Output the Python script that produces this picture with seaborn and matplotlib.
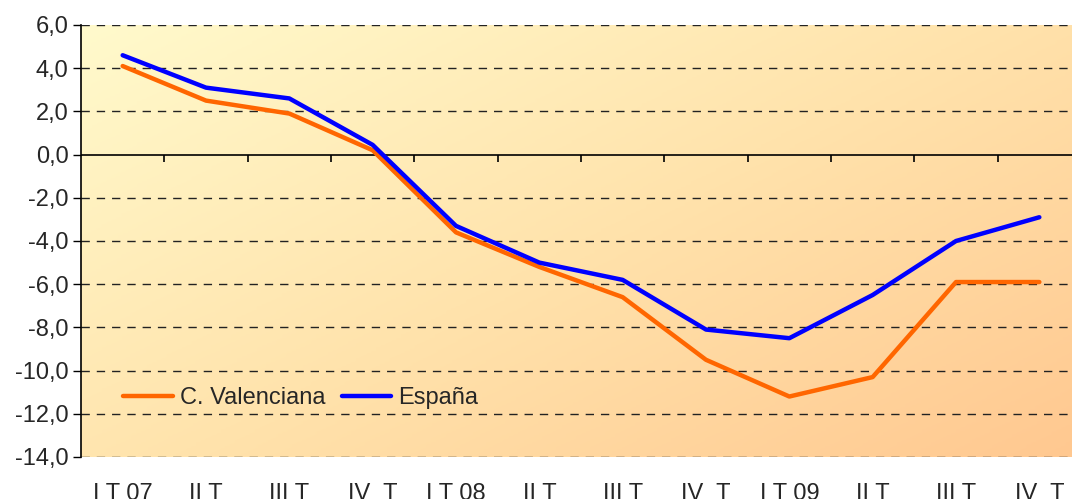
import numpy as np
import pandas as pd
import matplotlib
matplotlib.use("Agg")
import matplotlib.pyplot as plt
import seaborn as sns
from matplotlib.colors import LinearSegmentedColormap

quarters = ["I T 07", "II T", "III T", "IV  T", "I T 08", "II T", "III T", "IV  T",
            "I T 09", "II T", "III T", "IV  T"]
valenciana = [4.1, 2.5, 1.9, 0.2, -3.6, -5.2, -6.6, -9.5, -11.2, -10.3, -5.9, -5.9]
espana = [4.6, 3.1, 2.6, 0.45, -3.3, -5.0, -5.8, -8.1, -8.5, -6.5, -4.0, -2.9]

sns.set_style("white")
plt.rcParams["font.family"] = ["Liberation Sans", "DejaVu Sans"]

df = pd.DataFrame({
    "pos": list(range(len(quarters))) * 2,
    "valor": valenciana + espana,
    "serie": ["C. Valenciana"] * len(quarters) + ["España"] * len(quarters),
})

fig = plt.figure(figsize=(10.72, 4.99), dpi=100)
ax = fig.add_axes([81 / 1072, 42 / 499, 1000 / 1072, 432 / 499])

# gradient background: light yellow top-left -> orange bottom-right
grad_x, grad_y = np.meshgrid(np.linspace(0, 1, 200), np.linspace(0, 1, 200))
grad = grad_x * 0.55 + grad_y * 0.45
cmap = LinearSegmentedColormap.from_list("bg", ["#FFFACC", "#FFE3AC", "#FFC890"])
ax.imshow(grad, extent=[0, 1, 0, 1], transform=ax.transAxes, cmap=cmap,
          aspect="auto", zorder=0, origin="upper")

sns.lineplot(data=df, x="pos", y="valor", hue="serie", ax=ax,
             palette={"C. Valenciana": "#FF6600", "España": "#0000FF"},
             linewidth=3.2, zorder=5)

ax.set_xlim(-0.5, 11.5)
ax.set_ylim(-14, 6)
yt = np.arange(-14, 7, 2)
ax.set_yticks(yt)
ax.set_yticklabels([f"{v:.1f}".replace(".", ",") for v in yt], fontsize=17)
for y in yt:
    if y != 0:
        ax.axhline(y, color="#222222", linestyle=(0, (6, 5)), linewidth=1, zorder=1)
ax.axhline(0, color="black", linewidth=1.2, zorder=2)
ax.vlines(np.arange(0.5, 11, 1), -0.33, 0, color="black", linewidth=1.2, zorder=2)

ax.set_xticks(range(len(quarters)))
ax.set_xticklabels(quarters, fontsize=17)
ax.tick_params(axis="x", length=0, pad=19)
ax.tick_params(axis="y", length=6, width=1, color="black", pad=3, left=True)
ax.set_xlabel("")
ax.set_ylabel("")

for s in ["top", "right", "bottom"]:
    ax.spines[s].set_visible(False)
ax.spines["left"].set_color("black")
ax.spines["left"].set_linewidth(1.2)

handles, labels = ax.get_legend_handles_labels()
ax.legend(handles, labels, loc="center left", bbox_to_anchor=(0.042, 0.136),
          ncol=2, frameon=False, fontsize=17, handlelength=2.1, handletextpad=0.3,
          columnspacing=0.7, borderaxespad=0, borderpad=0)

fig.savefig("out.png", dpi=100)
